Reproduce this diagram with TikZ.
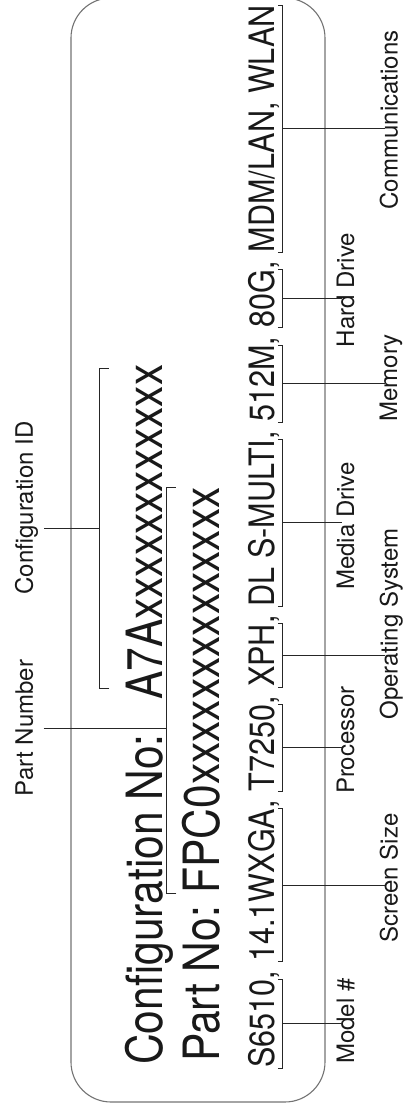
\documentclass[tikz,border=0pt]{standalone}
\usepackage{fontspec}
\setmainfont{TeX Gyre Heros}
\newfontfamily\cfgfont[FakeStretch=0.85]{TeX Gyre Heros}
\newfontfamily\rowfont[FakeStretch=0.873]{TeX Gyre Heros}
\usetikzlibrary{positioning}
\tikzset{
  cfgtext/.style={anchor=base west, inner sep=0pt, text=black!90, font=\cfgfont\fontsize{50}{60}\selectfont},
  rowtext/.style={anchor=base west, inner sep=0pt, text=black!90, font=\rowfont\fontsize{35}{42}\selectfont},
  lbl/.style={inner sep=1.5pt, text=black!90, font=\fontsize{24}{29}\selectfont},
  lbltop/.style={lbl, anchor=base, text depth=9pt},
  lbla/.style={lbl, anchor=north},
  brk/.style={line width=0.9pt, black!85},
  conn/.style={line width=0.9pt, black!85}
}

\begin{document}
\begin{tikzpicture}[x=1pt, y=1pt]
    \begin{scope}[rotate=90, transform shape]
        \useasboundingbox (0,0) rectangle (1117,403);

        % ==========================================
        % Label frame
        % ==========================================
        \draw[black!55, line width=1.1pt, rounded corners=40pt] (15,78) rectangle (1119,332);

        % ==========================================
        % Configuration and part number lines
        % ==========================================
        \node[cfgtext] (cfgno) at (52,240) {Configuration No:};
        \node[cfgtext] (cfgid) at ([xshift=34pt]cfgno.base east) {A7Axxxxxxxxxxxx};

        \node[cfgtext] (pno) at (55,183) {Part No:};
        \node[cfgtext] (pnid) at ([xshift=12pt]pno.base east) {FPC0xxxxxxxxxxxxxx};

        % bracket over the configuration ID
        \draw[brk] ([xshift=12pt,yshift=17pt]cfgid.north west) -- ([xshift=12pt,yshift=27pt]cfgid.north west)
            -- coordinate (cidm) ([xshift=-4pt,yshift=27pt]cfgid.north east) -- ([xshift=-4pt,yshift=17pt]cfgid.north east);

        % bracket over the part number
        \draw[brk] ([yshift=6pt]pnid.north west) -- ([yshift=16pt]pnid.north west) coordinate (pnl)
            -- ([yshift=16pt]pnid.north east) -- ([yshift=6pt]pnid.north east);

        \node[lbltop] (lpn) at (389,370) {Part Number};
        \node[lbltop] (lcid) at (609,370) {Configuration ID};

        \draw[conn] (lpn.south) -- (lpn.south |- pnl);
        \draw[conn] (cidm) -- (cidm |- lcid.south);

        % ==========================================
        % Model line
        % ==========================================
        \node[rowtext] (mdl) at (49,128) {S6510};
        \node[rowtext] (s1) at (mdl.base east) {,\ \mbox{}};
        \node[rowtext] (scr) at (s1.base east) {14.1WXGA};
        \node[rowtext] (s2) at (scr.base east) {,\ \mbox{}};
        \node[rowtext] (cpu) at (s2.base east) {T7250};
        \node[rowtext] (s3) at (cpu.base east) {,\ \mbox{}};
        \node[rowtext] (os) at (s3.base east) {XPH};
        \node[rowtext] (s4) at (os.base east) {,\ \mbox{}};
        \node[rowtext] (med) at (s4.base east) {DL S-MULTI};
        \node[rowtext] (s5) at (med.base east) {,\ \mbox{}};
        \node[rowtext] (mem) at (s5.base east) {512M};
        \node[rowtext] (s6) at (mem.base east) {,\ \mbox{}};
        \node[rowtext] (hdd) at (s6.base east) {80G};
        \node[rowtext] (s7) at (hdd.base east) {,\ \mbox{}};
        \node[rowtext] (com) at (s7.base east) {MDM/LAN, WLAN};

        % brackets under each field
        \foreach \n in {mdl,scr,cpu,os,med,mem,hdd,com}
            \draw[brk] ([yshift=-3pt]\n.base west) -- ([yshift=-7pt]\n.base west)
                -- ([yshift=-7pt]\n.base east) -- ([yshift=-3pt]\n.base east);

        % ==========================================
        % Field labels
        % ==========================================
        % first row
        \node[lbla] (lmdl) at (96,68) {Model \#};
        \node[lbla] (lcpu) at (377,68) {Processor};
        \node[lbla] (lmed) at (591,68) {Media Drive};
        \node[lbla] (lhdd) at (827,68) {Hard Drive};
        % second row
        \node[lbla] (lscr) at (239,25) {Screen Size};
        \node[lbla] (los) at (493,25) {Operating System};
        \node[lbla] (lmem) at (739,25) {Memory};
        \node[lbla] (lcom) at (997,25) {Communications};

        \foreach \n/\l in {mdl/lmdl,scr/lscr,cpu/lcpu,os/los,med/lmed,mem/lmem,hdd/lhdd,com/lcom}
            \draw[conn] ([yshift=-7pt]\n.base) -- ([yshift=-7pt]\n.base |- \l.north);
    \end{scope}
\end{tikzpicture}
\end{document}
